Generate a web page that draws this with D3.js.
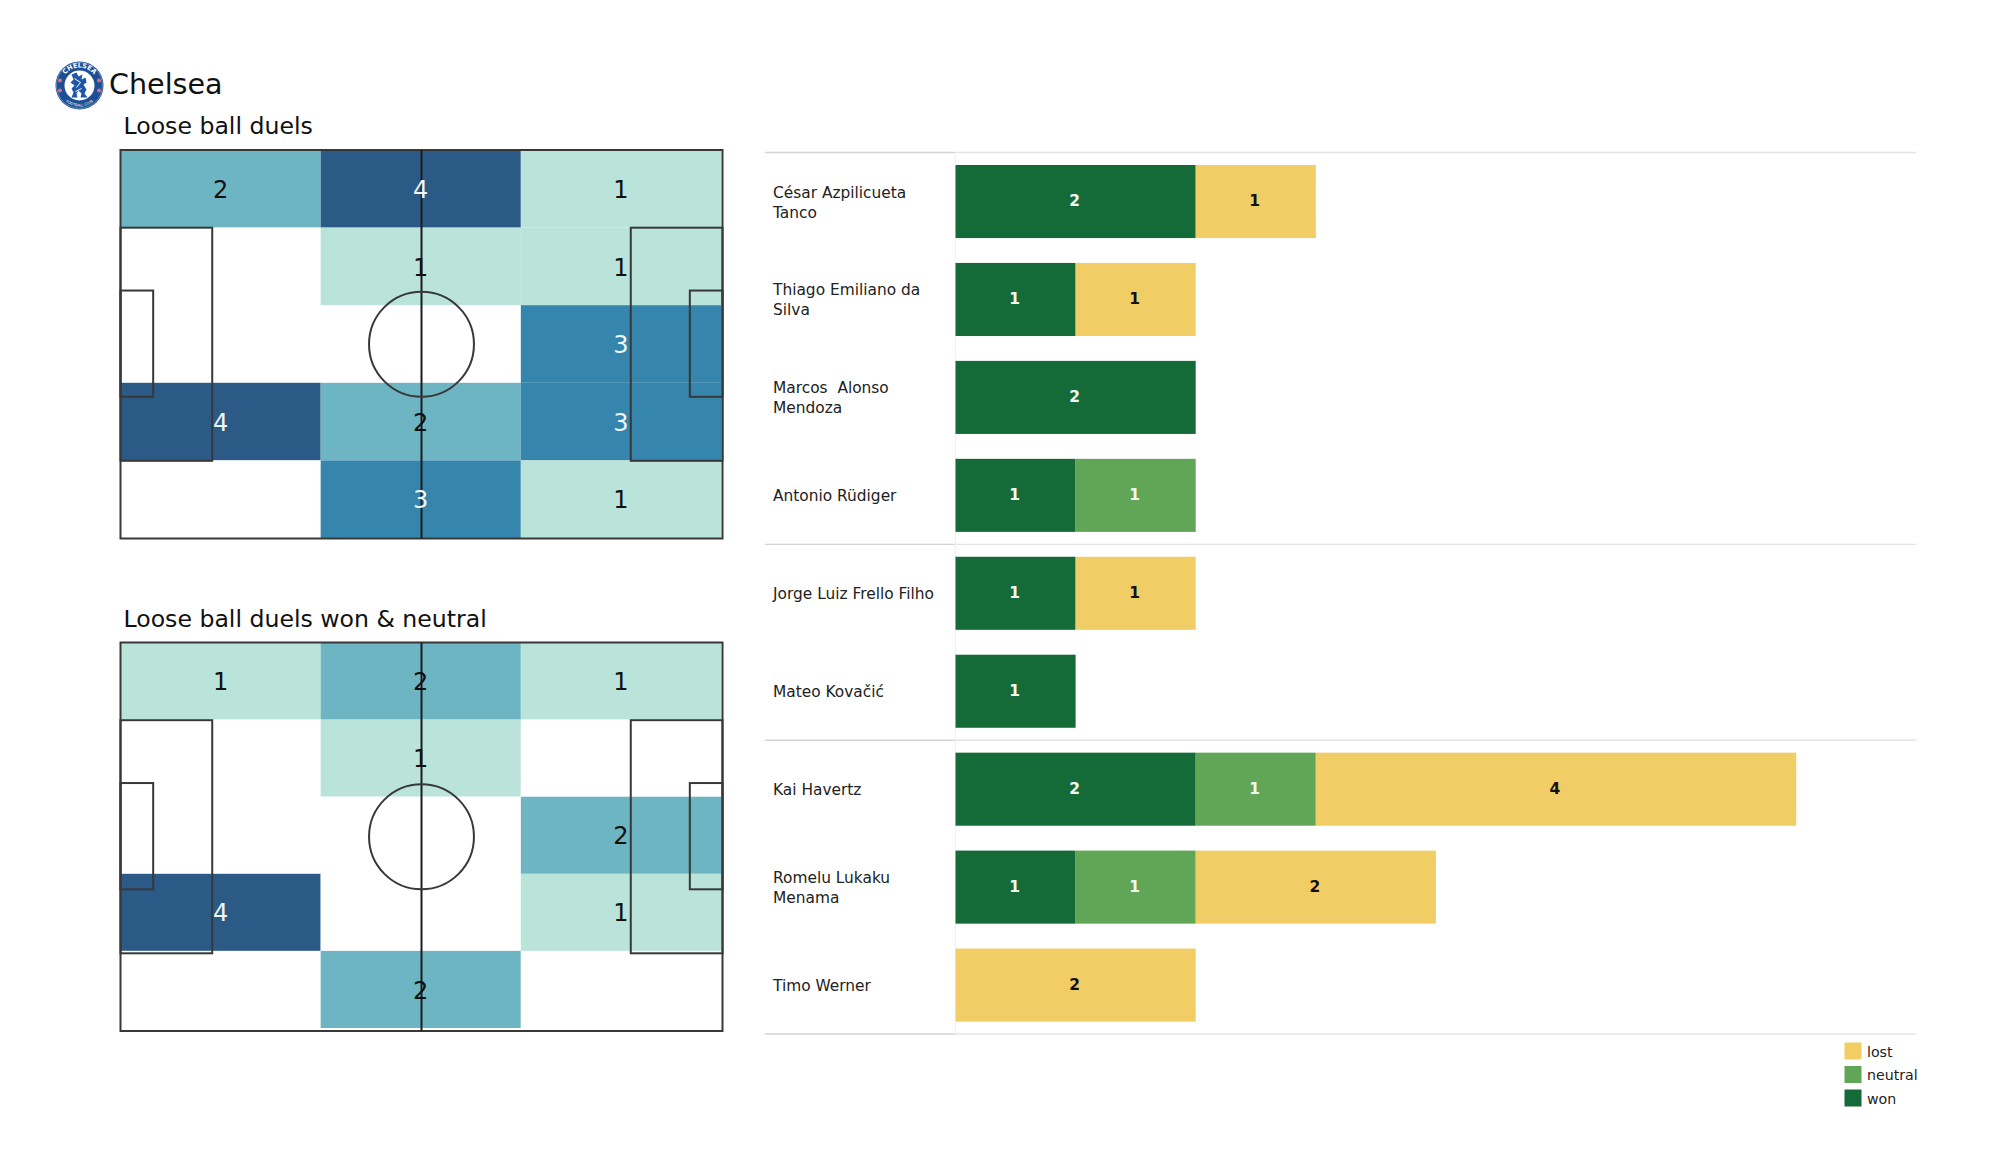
<!DOCTYPE html>
<html><head><meta charset="utf-8">
<script src="https://cdn.jsdelivr.net/npm/d3@7"></script>
<style>html,body{margin:0;background:#fff}svg{display:block}text{font-family:"DejaVu Sans",sans-serif}</style>
</head><body><svg id="c" width="2000" height="1175"></svg>
<script>
const allDuels = [[2,4,1],[0,1,1],[0,0,3],[4,2,3],[0,3,1]];
const wonNeutralDuels = [[1,2,1],[0,1,0],[0,0,2],[4,0,1],[0,2,0]];
const players = ["César Azpilicueta\nTanco","Thiago Emiliano da\nSilva","Marcos  Alonso\nMendoza","Antonio Rüdiger","Jorge Luiz Frello Filho","Mateo Kovačić","Kai Havertz","Romelu Lukaku\nMenama","Timo Werner"];
const won = [2,1,2,1,1,1,2,1,0];
const neutral = [0,0,0,1,0,0,1,1,0];
const lost = [1,1,0,0,1,0,4,2,2];
const legendItems = ["lost","neutral","won"];
const groupEnds = [3,5];

const svg = d3.select("#c");
const heat = d3.scaleOrdinal([0,1,2,3,4],["#ffffff","#bae4d9","#6db5c2","#3585ad","#2b5a87"]);
const barCol = {won:"#156b38",neutral:"#61a656",lost:"#f1cd65"};
const ink = "#383838";

// header + crest
const crest = svg.append("g").attr("transform","translate(79.5,85.5)");
crest.append("circle").attr("r",24).attr("fill","#1d4f95");
crest.append("circle").attr("r",23).attr("fill","none").attr("stroke","#7fa0c8").attr("stroke-width",.7);
crest.append("circle").attr("r",15).attr("fill","#fff");
crest.append("path").attr("fill","#1f57a8").attr("d","M-8,-11 L-3,-13 L-1,-9 L3,-11 L2,-6 L6,-8 L7,-3 L4,-1 L7,4 L5,8 L8,12 L1,12 L2,8 L-1,5 L-3,8 L-2,12 L-8,12 L-6,7 L-8,3 L-5,0 L-9,-3 L-6,-6 Z");
crest.append("path").attr("fill","none").attr("stroke","#fff").attr("stroke-width",1).attr("d","M-5,-7 L1,-3 L-3,2 M-4,6 L2,3");
[-19.5,19.5].forEach(x=>[-5,5].forEach(dy=>crest.append("circle").attr("cx",x).attr("cy",dy).attr("r",2).attr("fill","#d7707f")));
const defs = svg.append("defs");
defs.append("path").attr("id","arcTop").attr("d","M-18,0 A18,18 0 0 1 18,0");
defs.append("path").attr("id","arcBot").attr("d","M-21,0 A21,21 0 0 0 21,0");
crest.append("text").attr("fill","#fff").attr("font-size",6.5).attr("font-weight","bold").attr("text-anchor","middle")
  .append("textPath").attr("href","#arcTop").attr("startOffset","50%").text("CHELSEA");
crest.append("text").attr("fill","#fff").attr("font-size",3.6).attr("text-anchor","middle")
  .append("textPath").attr("href","#arcBot").attr("startOffset","50%").text("FOOTBALL CLUB");
svg.append("text").attr("x",109).attr("y",94).attr("font-size",28.6).attr("fill","#111").text("Chelsea");

function pitch(title, grid, top, cellBottom, titleY){
  const L=120.5,R=722.5,bottom=top+388.5;
  svg.append("text").attr("x",123.5).attr("y",titleY).attr("font-size",23.6).attr("fill","#111").text(title);
  const col=d3.scaleBand().domain(d3.range(3)).range([L,R-1.5]);
  const row=d3.scaleBand().domain(d3.range(5)).range([top,cellBottom]);
  const g=svg.append("g");
  grid.forEach((vals,r)=>vals.forEach((v,c)=>{
    g.append("rect").attr("x",col(c)).attr("y",row(r)).attr("width",col.bandwidth()).attr("height",row.bandwidth()).attr("fill",heat(v));
  }));
  const x=d3.scaleLinear().domain([0,105]).range([L,R]);
  const y=d3.scaleLinear().domain([0,68]).range([top,bottom]);
  const line=g.append("g").attr("fill","none").attr("stroke",ink).attr("stroke-width",2);
  const rect=(x0,x1,y0,y1)=>line.append("rect").attr("x",x(x0)).attr("y",y(y0)).attr("width",x(x1)-x(x0)).attr("height",y(y1)-y(y0));
  rect(0,105,0,68);
  rect(0,16,13.6,54.4); rect(89,105,13.6,54.4);
  rect(0,5.7,24.6,43.2); rect(99.3,105,24.6,43.2);
  line.append("line").attr("x1",x(52.5)).attr("x2",x(52.5)).attr("y1",y(0)).attr("y2",y(68)).attr("stroke","#1c1c1c");
  line.append("circle").attr("cx",x(52.5)).attr("cy",y(34)).attr("r",x(9.15)-x(0));
  grid.forEach((vals,r)=>vals.forEach((v,c)=>{
    if(v>0) g.append("text").attr("x",col(c)+col.bandwidth()/2).attr("y",row(r)+row.bandwidth()/2+.5).attr("dy","0.36em")
      .attr("text-anchor","middle").attr("font-size",24).attr("fill",v>=3?"#eef6f8":"#111").text(v);
  }));
}
pitch("Loose ball duels",allDuels,150,538,134);
pitch("Loose ball duels won & neutral",wonNeutralDuels,642.5,1028,627);

// bars
const bx=d3.scaleLinear().domain([0,1]).range([955.5,1075.6]);
const by=d3.scaleBand().domain(d3.range(players.length)).range([165,1021.6]).paddingInner(.254);
const gap=by.step()*by.paddingInner()/2;
const sepYs=[by(0)-gap,...groupEnds.map(i=>by(i)+by.bandwidth()+gap),by(players.length-1)+by.bandwidth()+gap];
sepYs.forEach(v=>{
  svg.append("line").attr("x1",765).attr("x2",955).attr("y1",v).attr("y2",v).attr("stroke","#d4d4d4").attr("stroke-width",1.4);
  svg.append("line").attr("x1",955).attr("x2",1916).attr("y1",v).attr("y2",v).attr("stroke","#e4e4e4").attr("stroke-width",1.4);
});
svg.append("line").attr("x1",955.5).attr("x2",955.5).attr("y1",sepYs[0]).attr("y2",sepYs[3]).attr("stroke","#f0f0f0");
players.forEach((name,i)=>{
  const cy=by(i)+by.bandwidth()/2;
  const lines=name.split("\n");
  const t=svg.append("text").attr("font-size",15.4).attr("fill","#222").attr("style","white-space:pre");
  lines.forEach((s,k)=>t.append("tspan").attr("x",773).attr("y",cy+(k-(lines.length-1)/2)*20+(lines.length==1?6:6)).text(s));
  let acc=0;
  [["won",won[i]],["neutral",neutral[i]],["lost",lost[i]]].forEach(([key,v])=>{
    if(!v) return;
    svg.append("rect").attr("x",bx(acc)).attr("y",by(i)).attr("width",bx(acc+v)-bx(acc)).attr("height",by.bandwidth()).attr("fill",barCol[key]);
    svg.append("text").attr("x",(bx(acc)+bx(acc+v))/2-1).attr("y",cy-1).attr("dy","0.36em").attr("text-anchor","middle")
      .attr("font-size",15.5).attr("font-weight","bold").attr("fill",key=="lost"?"#111":"#f2f8f2").text(v);
    acc+=v;
  });
});

// legend
const ly=d3.scalePoint().domain(legendItems).range([1051,1098]);
legendItems.forEach(k=>{
  svg.append("rect").attr("x",1844.5).attr("y",ly(k)-8.5).attr("width",17).attr("height",17).attr("fill",barCol[k]);
  svg.append("text").attr("x",1867).attr("y",ly(k)+5.5).attr("font-size",14.2).attr("fill","#222").text(k);
});
</script></body></html>
